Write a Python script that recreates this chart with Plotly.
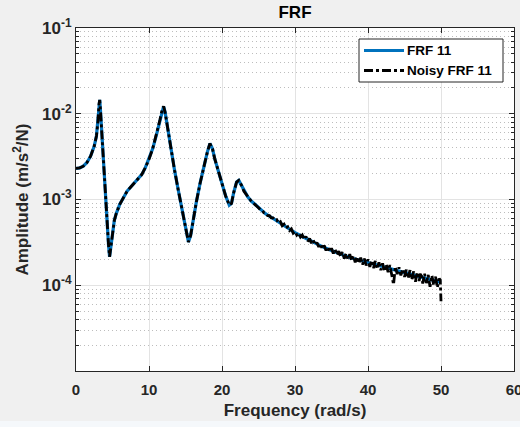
import plotly.graph_objects as go

# Clean FRF 11
freq_clean = [0, 0.5, 1.0, 1.5, 2.0, 2.5, 2.8, 3.0, 3.15, 3.25, 3.35, 3.5, 3.75, 4.0, 4.25, 4.45, 4.6,
              4.75, 5.0, 5.25, 5.5, 6.0, 6.5, 7.0, 7.5, 8.0, 8.5, 9.0, 9.5, 10.0, 10.5, 11.0, 11.5,
              11.8, 12.0, 12.2, 12.5, 13.0, 13.5, 14.0, 14.5, 15.0, 15.4, 15.7, 16.0, 16.5, 17.0,
              17.5, 18.0, 18.35, 18.7, 19.0, 19.5, 20.0, 20.5, 21.0, 21.3, 21.6, 22.0, 22.3, 22.7,
              23.0, 23.5, 24.0, 25.0, 26.0, 27.0, 28.0, 29.0, 30.0, 31.0, 32.0, 33.0, 34.0, 35.0,
              36.0, 37.0, 38.0, 39.0, 40.0, 41.0, 42.0, 43.0, 44.0, 45.0, 46.0, 47.0, 48.0, 49.0, 50.0]
amp_clean = [2.3e-3, 2.33e-3, 2.45e-3, 2.7e-3, 3.2e-3, 4.2e-3, 5.5e-3, 8.0e-3, 1.3e-2, 1.45e-2, 1.1e-2,
             6.5e-3, 2.5e-3, 1.2e-3, 6.0e-4, 3.0e-4, 2.15e-4, 2.8e-4, 4.3e-4, 5.7e-4, 6.8e-4, 8.8e-4,
             1.05e-3, 1.25e-3, 1.4e-3, 1.55e-3, 1.72e-3, 1.95e-3, 2.35e-3, 2.95e-3, 3.9e-3, 5.6e-3,
             8.5e-3, 1.12e-2, 1.22e-2, 1.05e-2, 7.2e-3, 4.0e-3, 2.2e-3, 1.3e-3, 7.8e-4, 4.6e-4,
             3.2e-4, 3.8e-4, 5.5e-4, 9.5e-4, 1.55e-3, 2.4e-3, 3.6e-3, 4.5e-3, 3.9e-3, 3.0e-3,
             2.1e-3, 1.5e-3, 1.1e-3, 8.6e-4, 9.0e-4, 1.2e-3, 1.6e-3, 1.67e-3, 1.45e-3, 1.25e-3,
             1.08e-3, 9.6e-4, 8.0e-4, 6.8e-4, 6.0e-4, 5.3e-4, 4.6e-4, 4.1e-4, 3.7e-4, 3.35e-4,
             3.0e-4, 2.75e-4, 2.55e-4, 2.35e-4, 2.18e-4, 2.05e-4, 1.95e-4, 1.85e-4, 1.75e-4,
             1.65e-4, 1.57e-4, 1.48e-4, 1.40e-4, 1.33e-4, 1.26e-4, 1.2e-4, 1.14e-4, 1.08e-4]

# Noisy FRF 11: low-frequency part follows the clean curve, high-frequency part read point by point
freq_noisy_low = freq_clean[:64]
amp_noisy_low = amp_clean[:64]
freq_noisy_high = [25.0, 25.25, 25.5, 25.75, 26.0, 26.25, 26.5, 26.75, 27.0, 27.25, 27.5, 27.75, 28.0,
                   28.25, 28.5, 28.75, 29.0, 29.25, 29.5, 29.75, 30.0, 30.25, 30.5, 30.75, 31.0, 31.25,
                   31.5, 31.75, 32.0, 32.25, 32.5, 32.75, 33.0, 33.25, 33.5, 33.75, 34.0, 34.25, 34.5,
                   34.75, 35.0, 35.25, 35.5, 35.75, 36.0, 36.25, 36.5, 36.75, 37.0, 37.25, 37.5, 37.75,
                   38.0, 38.25, 38.5, 38.75, 39.0, 39.25, 39.5, 39.75, 40.0, 40.25, 40.5, 40.75, 41.0,
                   41.25, 41.5, 41.75, 42.0, 42.25, 42.5, 42.75, 43.0, 43.25, 43.5, 43.75, 44.0, 44.25,
                   44.5, 44.75, 45.0, 45.25, 45.5, 45.75, 46.0, 46.25, 46.5, 46.75, 47.0, 47.25, 47.5,
                   47.75, 48.0, 48.25, 48.5, 48.75, 49.0, 49.25, 49.5, 49.75, 49.9, 50.0]
amp_noisy_high = [8.0e-4, 7.6e-4, 7.5e-4, 7.0e-4, 6.9e-4, 6.5e-4, 6.5e-4, 6.1e-4, 6.1e-4, 5.7e-4, 5.8e-4,
                  5.3e-4, 5.5e-4, 4.95e-4, 5.15e-4, 4.65e-4, 4.8e-4, 4.35e-4, 4.55e-4, 4.05e-4, 4.25e-4,
                  3.85e-4, 4.05e-4, 3.65e-4, 3.85e-4, 3.45e-4, 3.7e-4, 3.25e-4, 3.5e-4, 3.1e-4, 3.35e-4,
                  2.95e-4, 3.15e-4, 2.8e-4, 3.05e-4, 2.65e-4, 2.9e-4, 2.55e-4, 2.8e-4, 2.45e-4, 2.7e-4,
                  2.35e-4, 2.6e-4, 2.25e-4, 2.5e-4, 2.15e-4, 2.45e-4, 2.05e-4, 2.35e-4, 2.0e-4, 2.3e-4,
                  1.92e-4, 2.2e-4, 1.85e-4, 2.15e-4, 1.8e-4, 2.1e-4, 1.74e-4, 2.05e-4, 1.7e-4, 2.0e-4,
                  1.64e-4, 1.95e-4, 1.58e-4, 1.92e-4, 1.55e-4, 1.85e-4, 1.5e-4, 1.8e-4, 1.45e-4, 1.75e-4,
                  1.42e-4, 1.72e-4, 1.38e-4, 1.02e-4, 1.65e-4, 1.35e-4, 1.62e-4, 1.3e-4, 1.55e-4, 1.25e-4,
                  1.52e-4, 1.2e-4, 1.5e-4, 1.16e-4, 1.45e-4, 1.1e-4, 1.42e-4, 1.12e-4, 1.4e-4, 1.05e-4,
                  1.36e-4, 1.06e-4, 1.32e-4, 9.6e-5, 1.3e-4, 1.0e-4, 1.26e-4, 9.4e-5, 1.2e-4, 1.15e-4,
                  6.5e-5]
freq_noisy = freq_noisy_low + freq_noisy_high
amp_noisy = amp_noisy_low + amp_noisy_high

series_names = ["FRF 11", "Noisy FRF 11"]
x_ticks = [0, 10, 20, 30, 40, 50, 60]
y_ticks = [1e-4, 1e-3, 1e-2, 1e-1]
y_tick_labels = ["10<sup>-4</sup>", "10<sup>-3</sup>", "10<sup>-2</sup>", "10<sup>-1</sup>"]

FONT = "Liberation Sans, Arial, sans-serif"
AX = "#262626"
BLUE = "#0072BD"
W, H = 520, 427
L, R, T, B = 76, 6, 28, 56
PW, PH = W - L - R, H - T - B


def px(x):  # pixel -> paper x (legend box placement only)
    return (x - L) / PW


def py(y):  # pixel -> paper y
    return 1 - (y - T) / PH


fig = go.Figure()
fig.add_trace(go.Scatter(x=freq_clean, y=amp_clean, mode="lines", name=series_names[0],
                         line=dict(color=BLUE, width=3.2)))
fig.add_trace(go.Scatter(x=freq_noisy, y=amp_noisy, mode="lines", name=series_names[1],
                         line=dict(color="black", width=2.8, dash="dashdot")))

# MATLAB-style legend box
shapes = [
    dict(type="rect", xref="paper", yref="paper", x0=-L / PW, x1=1 + R / PW,
         y0=-B / PH, y1=-(B - 6) / PH, fillcolor="#f5f8fb", line=dict(width=0), layer="below"),
    dict(type="rect", xref="paper", yref="paper", x0=px(359), x1=px(503), y0=py(82), y1=py(39),
         fillcolor="white", line=dict(color=AX, width=1), layer="above"),
    dict(type="line", xref="paper", yref="paper", x0=px(364), x1=px(404), y0=py(50.5), y1=py(50.5),
         line=dict(color=BLUE, width=3), layer="above"),
    dict(type="line", xref="paper", yref="paper", x0=px(364), x1=px(404), y0=py(70.5), y1=py(70.5),
         line=dict(color="black", width=2.8, dash="dashdot"), layer="above"),
]
annotations = [
    dict(text=series_names[0], xref="paper", yref="paper", x=px(405), y=py(50.5), xanchor="left",
         yanchor="middle", showarrow=False,
         font=dict(family=FONT, size=13.5, color="black", weight="bold")),
    dict(text=series_names[1], xref="paper", yref="paper", x=px(405), y=py(70.5), xanchor="left",
         yanchor="middle", showarrow=False,
         font=dict(family=FONT, size=13.5, color="black", weight="bold")),
]

fig.update_layout(
    width=W, height=H,
    margin=dict(l=L, r=R, t=T, b=B, autoexpand=False),
    paper_bgcolor="#f0f0f0", plot_bgcolor="white",
    title=dict(text="FRF", x=(L + W - R) / 2 / W, xanchor="center", y=1 - 12 / H, yanchor="middle",
               font=dict(family=FONT, size=17, color="#000000", weight="bold")),
    showlegend=False,
    shapes=shapes,
    annotations=annotations,
)
fig.update_xaxes(range=[0, 60], tickvals=x_ticks, ticks="inside", ticklen=5, tickcolor=AX,
                 showline=True, linecolor=AX, linewidth=1, mirror="ticks",
                 showgrid=True, gridcolor="#e3e3e3", gridwidth=1, zeroline=False,
                 ticklabelstandoff=5, ticklabeloverflow="allow", automargin=False,
                 tickfont=dict(family=FONT, size=15, color=AX, weight="bold"),
                 title=dict(text="Frequency (rad/s)", standoff=7,
                            font=dict(family=FONT, size=17, color=AX, weight="bold")))
fig.update_yaxes(type="log", range=[-5, -1], tickvals=y_ticks, ticktext=y_tick_labels,
                 ticks="inside", ticklen=5, tickcolor=AX,
                 showline=True, linecolor=AX, linewidth=1, mirror="ticks",
                 showgrid=True, gridcolor="#e3e3e3", gridwidth=1, zeroline=False,
                 ticklabeloverflow="allow", automargin=False,
                 minor=dict(ticks="inside", ticklen=3, tickcolor=AX, showgrid=True,
                            gridcolor="#bdbdbd", griddash="1px,3px", gridwidth=1, dtick="D1"),
                 tickfont=dict(family=FONT, size=17, color=AX, weight="bold"),
                 title=dict(text="Amplitude (m/s<sup>2</sup>/N)", standoff=9,
                            font=dict(family=FONT, size=17, color=AX, weight="bold")))

fig.write_html("out.html")
